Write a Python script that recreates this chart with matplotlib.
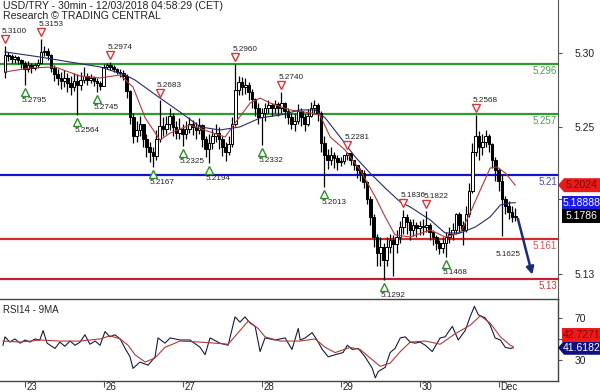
import matplotlib
matplotlib.use('Agg')
import matplotlib.pyplot as plt
import matplotlib.patches as patches
from matplotlib.transforms import IdentityTransform, offset_copy, blended_transform_factory, ScaledTranslation

plt.rcParams['font.family'] = ['Liberation Sans', 'DejaVu Sans']

# ---- data (hourly bars, hour 0 = 22 Nov 18:00) ----
first_open = 5.290
closes = [5.303, 5.302, 5.300, 5.301, 5.299, 5.297,
          5.292, 5.295, 5.293, 5.295, 5.297, 5.305, 5.306, 5.303, 5.293, 5.288, 5.285, 5.283,
          5.285, 5.281, 5.278, 5.283, 5.280, 5.284, 5.287, 5.284, 5.285, 5.283, 5.281, 5.279,
          5.294, 5.295, 5.294, 5.292, 5.290, 5.289, 5.287, 5.275, 5.255, 5.240, 5.245, 5.250,
          5.238, 5.232, 5.228, 5.225, 5.238, 5.248, 5.246, 5.250, 5.256, 5.247, 5.243, 5.246,
          5.242, 5.246, 5.250, 5.247, 5.245, 5.249, 5.238, 5.230, 5.235, 5.240, 5.243, 5.238,
          5.232, 5.228, 5.234, 5.250, 5.276, 5.282, 5.278, 5.280, 5.274, 5.269, 5.262, 5.255,
          5.258, 5.262, 5.264, 5.262, 5.265, 5.262, 5.266, 5.260, 5.255, 5.250, 5.252, 5.260,
          5.255, 5.250, 5.256, 5.262, 5.264, 5.258, 5.235, 5.226, 5.222, 5.226, 5.223, 5.220,
          5.221, 5.226, 5.227, 5.222, 5.218, 5.214, 5.212, 5.205, 5.192, 5.178, 5.162, 5.150,
          5.155, 5.145, 5.155, 5.160, 5.157, 5.162, 5.170, 5.178, 5.174, 5.168, 5.172, 5.169,
          5.171, 5.170, 5.172, 5.166, 5.162, 5.158, 5.154, 5.158, 5.162, 5.165, 5.168, 5.180,
          5.172, 5.168, 5.180, 5.198, 5.228, 5.240, 5.232, 5.236, 5.240, 5.234, 5.222, 5.214,
          5.206, 5.192, 5.186, 5.182, 5.178, 5.1786]
highs = [5.3100, 5.305, 5.304, 5.303, 5.302, 5.300,
         5.298, 5.298, 5.297, 5.297, 5.300, 5.3153, 5.310, 5.308, 5.304, 5.295, 5.292, 5.290,
         5.291, 5.289, 5.287, 5.289, 5.288, 5.290, 5.294, 5.289, 5.288, 5.287, 5.285, 5.283,
         5.296, 5.297, 5.2974, 5.295, 5.293, 5.292, 5.291, 5.288, 5.276, 5.258, 5.252, 5.256,
         5.250, 5.242, 5.236, 5.232, 5.245, 5.2683, 5.255, 5.256, 5.262, 5.258, 5.252, 5.254,
         5.250, 5.252, 5.255, 5.253, 5.251, 5.254, 5.250, 5.240, 5.242, 5.246, 5.250, 5.247,
         5.240, 5.236, 5.240, 5.255, 5.2960, 5.287, 5.286, 5.285, 5.282, 5.277, 5.270, 5.266,
         5.262, 5.266, 5.268, 5.266, 5.268, 5.267, 5.2740, 5.267, 5.262, 5.258, 5.258, 5.265,
         5.262, 5.257, 5.261, 5.267, 5.268, 5.266, 5.260, 5.240, 5.230, 5.232, 5.228, 5.226,
         5.224, 5.226, 5.2281, 5.227, 5.222, 5.218, 5.216, 5.214, 5.206, 5.194, 5.180, 5.165,
         5.162, 5.158, 5.162, 5.165, 5.164, 5.168, 5.175, 5.1836, 5.180, 5.176, 5.176, 5.174,
         5.175, 5.176, 5.1822, 5.173, 5.168, 5.164, 5.160, 5.162, 5.166, 5.170, 5.173, 5.181,
         5.182, 5.175, 5.186, 5.204, 5.235, 5.2568, 5.244, 5.242, 5.245, 5.242, 5.235, 5.224,
         5.216, 5.210, 5.194, 5.190, 5.186, 5.185]
lows = [5.2850, 5.298, 5.297, 5.297, 5.296, 5.293,
        5.2795, 5.290, 5.289, 5.291, 5.293, 5.296, 5.302, 5.299, 5.290, 5.283, 5.280, 5.277,
        5.278, 5.274, 5.272, 5.275, 5.2564, 5.276, 5.281, 5.280, 5.281, 5.279, 5.2745, 5.276,
        5.288, 5.292, 5.291, 5.290, 5.288, 5.286, 5.284, 5.270, 5.250, 5.235, 5.236, 5.240,
        5.232, 5.224, 5.220, 5.2167, 5.222, 5.236, 5.240, 5.242, 5.245, 5.240, 5.238, 5.238,
        5.2325, 5.238, 5.243, 5.241, 5.238, 5.242, 5.232, 5.224, 5.2194, 5.230, 5.236, 5.230,
        5.225, 5.221, 5.226, 5.232, 5.248, 5.272, 5.272, 5.273, 5.268, 5.262, 5.256, 5.250,
        5.2332, 5.252, 5.258, 5.256, 5.258, 5.256, 5.258, 5.254, 5.250, 5.246, 5.244, 5.250,
        5.248, 5.244, 5.248, 5.255, 5.258, 5.252, 5.228, 5.2013, 5.215, 5.218, 5.216, 5.214,
        5.217, 5.219, 5.222, 5.218, 5.214, 5.208, 5.206, 5.200, 5.188, 5.172, 5.155, 5.140,
        5.140, 5.1292, 5.140, 5.150, 5.132, 5.150, 5.158, 5.165, 5.165, 5.160, 5.163, 5.162,
        5.164, 5.164, 5.166, 5.160, 5.156, 5.152, 5.149, 5.150, 5.1468, 5.158, 5.160, 5.165,
        5.166, 5.156, 5.166, 5.178, 5.196, 5.225, 5.222, 5.226, 5.232, 5.228, 5.216, 5.206,
        5.198, 5.163, 5.180, 5.176, 5.174, 5.175]

# moving averages drawn on the chart (hour, price)
ma_red_h = [0, 7.6, 15.2, 22.8, 28.9, 35.0, 38.9, 42.6, 47.1, 50.2, 56.2, 62.3, 66.9, 69.9,
            74.5, 77.5, 80.5, 86.6, 92.7, 95.7, 98.8, 103.3, 107.9, 112.5, 115.5, 118.5,
            123.1, 129.2, 133.7, 138.3, 141.3, 144.4, 147.4, 149.5, 152.0, 155.0]
ma_red_v = [5.2898, 5.2929, 5.2937, 5.2867, 5.2852, 5.2875, 5.2782, 5.2543, 5.2373, 5.2427,
            5.2489, 5.2435, 5.2396, 5.2504, 5.2659, 5.2697, 5.2659, 5.2605, 5.2582, 5.2566,
            5.2396, 5.2296, 5.2141, 5.1933, 5.1779, 5.1640, 5.1624, 5.1678, 5.1624, 5.1655,
            5.1809, 5.1987, 5.2157, 5.2165, 5.2118, 5.2024]
ma_blue_h = [0, 10.6, 19.8, 28.9, 36.5, 39.5, 47.1, 53.2, 59.3, 65.3, 71.4, 77.5, 83.6, 89.7,
             94.2, 97.3, 101.8, 106.4, 110.9, 115.5, 120.1, 123.1, 129.2, 133.7, 138.3,
             142.9, 147.4, 150.5, 153.5, 155.0]
ma_blue_v = [5.3053, 5.3014, 5.2975, 5.2937, 5.2875, 5.2836, 5.2697, 5.2589, 5.2474, 5.2450,
             5.2474, 5.2543, 5.2566, 5.2605, 5.2605, 5.2543, 5.2396, 5.2242, 5.2118, 5.2002,
             5.1894, 5.1856, 5.1755, 5.1655, 5.1655, 5.1701, 5.1779, 5.1871, 5.1887, 5.18888]

# pivot points (bar index)
pivot_highs = [0, 11, 32, 47, 70, 84, 104, 121, 128, 143]
pivot_lows = [6, 22, 28, 45, 54, 62, 78, 97, 115, 134]

# support / resistance levels
levels = [5.296, 5.257, 5.21, 5.161, 5.13]
level_labels = ['5.296', '5.257', '5.21', '5.161', '5.13']
level_colors = ['#2f9a2f', '#2f9a2f', '#1414c8', '#d42a2a', '#c02030']
level_text_colors = ['#4f9f4f', '#4f9f4f', '#4b4ba8', '#c85a5a', '#c83a3a']

price_ticks = [5.3045, 5.2474, 5.1918, 5.1338]
price_tick_labels = ['5.30', '5.25', '', '5.13']   # 5.19 sits behind the value tags

# RSI(14) and its 9MA
rsi_h = [-0.6, 0, 1.5, 3.0, 4.6, 6.1, 7.6, 9.1, 10.6, 11.6, 12.8, 15.2, 16.7, 18.2, 19.8, 21.3,
         22.8, 24.3, 25.8, 27.4, 28.9, 30.4, 31.9, 33.4, 35.0, 36.5, 38.0, 38.9, 41.0, 43.5,
         45.6, 46.5, 48.6, 50.2, 53.2, 56.2, 59.3, 60.8, 62.3, 65.3, 67.8, 69.9, 71.4, 72.9,
         74.5, 76.0, 77.5, 79.0, 82.1, 85.1, 87.2, 89.1, 89.7, 91.2, 93.3, 94.8, 96.4, 98.2,
         100.3, 102.7, 104.0, 105.5, 107.3, 109.4, 111.6, 112.5, 113.4, 115.5, 117.0, 118.5,
         120.1, 121.6, 123.1, 124.6, 126.1, 127.7, 129.8, 132.2, 133.7, 135.9, 137.7, 139.8,
         141.3, 142.6, 143.8, 145.9, 147.4, 148.9, 150.5, 152.0, 153.5, 154.4]
rsi_v = [44, 52, 47, 50, 46, 49, 47, 50, 49, 58, 46, 41, 47, 43, 48, 44,
         47, 54, 45, 48, 44, 57, 52, 54, 50, 41, 33, 22, 28, 25,
         33, 51, 46, 51, 49, 49, 42, 35, 51, 46, 44, 71, 66, 71,
         65, 62, 38, 51, 49, 51, 40, 60, 49, 51, 56, 49, 40, 33,
         35, 37, 44, 40, 41, 33, 22, 13, 19, 23, 37, 41,
         51, 52, 47, 46, 47, 44, 38, 51, 52, 62, 49, 58,
         71, 81, 73, 70, 63, 51, 49, 42, 41, 41.6182]
rsi_ma_h = [-0.6, 4.6, 10.6, 16.7, 22.8, 28.9, 31.9, 35.0, 37.4, 39.5, 42.6, 45.6, 48.6, 53.2,
            59.3, 63.8, 67.8, 71.4, 73.9, 76.9, 79.0, 83.6, 89.7, 94.2, 97.3, 100.3, 104.9,
            107.9, 110.9, 114.0, 117.0, 120.1, 123.1, 127.7, 132.2, 136.8, 141.3, 144.4,
            147.4, 150.5, 153.5, 154.4]
rsi_ma_v = [48, 47, 49, 48, 48, 50, 53, 50, 44, 35, 28, 32, 42, 48,
            47, 46, 45, 58, 67, 60, 52, 48, 48, 50, 42, 37, 42,
            40, 32, 24, 27, 38, 47, 48, 45, 55, 63, 72,
            65, 52, 44, 42.7271]
rsi_ticks = [70, 50, 30]
rsi_tick_labels = ['70', '', '30']   # 50 sits behind the value tag

day_pos = [6, 30, 54, 78, 102, 126, 150]
day_labels = ['23', '26', '27', '28', '29', '30', 'Dec']

# ---- figure ----
fig = plt.figure(figsize=(6, 3.92), dpi=100)
ax = fig.add_axes([0, 93 / 392, 558 / 600, 299 / 392])
ax2 = fig.add_axes([0, 11 / 392, 558 / 600, 82 / 392])

xlim = (-1.5, 168)
ax.set_xlim(*xlim)
ax.set_ylim(5.1145, 5.3454)

# levels
for lv, lab, c, tc in zip(levels, level_labels, level_colors, level_text_colors):
    ax.axhline(lv, color=c, lw=1.6, zorder=1)
    tr = offset_copy(blended_transform_factory(ax.transAxes, ax.transData), fig=fig, x=-1, y=-2, units='dots')
    ax.text(1.0, lv, lab, transform=tr, ha='right', va='top', fontsize=7, color=tc)

# candles
opens = [first_open] + closes[:-1]
for i, (o, h, l, c) in enumerate(zip(opens, highs, lows, closes)):
    ax.vlines(i, l, h, color='black', lw=0.9, zorder=3)
    lo, hi = min(o, c), max(o, c)
    face = 'white' if c > o else 'black'
    ax.add_patch(patches.Rectangle((i - 0.4, lo), 0.8, max(hi - lo, 0.0005),
                                   facecolor=face, edgecolor='black', lw=0.7, zorder=4))

# moving averages
ax.plot(ma_red_h, ma_red_v, color='#b23a3a', lw=0.8, zorder=5)
ax.plot(ma_blue_h, ma_blue_v, color='#2a2a6e', lw=0.8, zorder=5)

# pivots: marker just beyond the extreme, label left-aligned near the marker
for i in pivot_highs:
    mk = offset_copy(ax.transData, fig=fig, y=7, units='dots')
    tx = offset_copy(ax.transData, fig=fig, x=-3, y=11, units='dots')
    ax.plot(i, highs[i], marker='v', ms=6, mfc='white', mec='#d03a3a', mew=1.0, transform=mk, zorder=6)
    ax.text(i, highs[i], '%.4f' % highs[i], transform=tx, ha='left', va='bottom', fontsize=5.9, color='#222222', zorder=6)
for i in pivot_lows:
    mk = offset_copy(ax.transData, fig=fig, y=-7, units='dots')
    tx = offset_copy(ax.transData, fig=fig, x=-3, y=-12, units='dots')
    ax.plot(i, lows[i], marker='^', ms=6, mfc='white', mec='#2f8f2f', mew=1.0, transform=mk, zorder=6)
    ax.text(i, lows[i], '%.4f' % lows[i], transform=tx, ha='left', va='top', fontsize=5.9, color='#222222', zorder=6)

# projection arrow
ax.annotate('', xy=(160.4, 5.1312), xytext=(155.6, 5.1786),
            arrowprops=dict(arrowstyle='-|>', color='#1c2a7a', lw=1.8, mutation_scale=11), zorder=7)
ax.text(152.9, 5.1485, '5.1625', ha='center', va='center', fontsize=5.9, color='#222222')

# main axis styling
for s in ['left', 'top', 'bottom']:
    ax.spines[s].set_visible(False)
ax.spines['right'].set_color('#555555')
ax.set_xticks([])
ax.yaxis.tick_right()
ax.set_yticks(price_ticks)
ax.set_yticklabels(price_tick_labels)
ax.tick_params(axis='y', length=3, width=0.8, color='#555555', pad=9, labelsize=7.5, labelcolor='#222222')

# RSI panel
ax2.set_xlim(*xlim)
ax2.set_ylim(10, 88)
ax2.plot(rsi_h, rsi_v, color='#1a1a3a', lw=0.8)
ax2.plot(rsi_ma_h, rsi_ma_v, color='#b23a3a', lw=0.8)
ax2.spines['left'].set_visible(False)
for s in ['top', 'bottom', 'right']:
    ax2.spines[s].set_color('#444444')
    ax2.spines[s].set_linewidth(1.0)
ax2.yaxis.tick_right()
ax2.set_yticks(rsi_ticks)
ax2.set_yticklabels(rsi_tick_labels)
ax2.tick_params(axis='y', length=3, width=0.8, color='#555555', pad=9, labelsize=7.5, labelcolor='#222222')
ax2.set_xticks(day_pos)
ax2.set_xticklabels(day_labels)
ax2.tick_params(axis='x', length=4, width=0.8, color='#555555', pad=-3, labelsize=7, labelcolor='#222222')
shift = ScaledTranslation(2 / 100, 0, fig.dpi_scale_trans)
for lbl in ax2.get_xticklabels():
    lbl.set_horizontalalignment('left')
    lbl.set_transform(lbl.get_transform() + shift)
ax2.text(0.006, 0.93, 'RSI14 - 9MA', transform=ax2.transAxes, ha='left', va='top', fontsize=7, color='#222222')

# header
fig.text(0.005, 1 - 6 / 392, 'USD/TRY - 30min - 12/03/2018 04:58:29 (CET)', ha='left', va='center', fontsize=7.6, color='#222222')
fig.text(0.005, 1 - 16 / 392, 'Research \u00a9 TRADING CENTRAL', ha='left', va='center', fontsize=7.6, color='#222222')

# value tags on the right
ident = IdentityTransform()


def tag(axis, val, text, face, tcolor, pointer=False, dy=0):
    xr = axis.transAxes.transform((1, 0))[0]
    yc = axis.transData.transform((0, val))[1] + dy
    hh = 7
    if pointer:
        pts = [(xr, yc), (xr + 6, yc + hh), (600, yc + hh), (600, yc - hh), (xr + 6, yc - hh)]
    else:
        pts = [(xr + 4, yc + hh), (600, yc + hh), (600, yc - hh), (xr + 4, yc - hh)]
    fig.add_artist(patches.Polygon(pts, closed=True, facecolor=face, edgecolor='none', transform=ident, zorder=5))
    fig.text((xr + 6 + 600) / 2, yc, text, ha='center', va='center', fontsize=7.5, color=tcolor, transform=ident, zorder=6)


tag(ax, ma_red_v[-1], '%.4f' % ma_red_v[-1], '#e81a1a', '#7a0a0a', pointer=True)
tag(ax, ma_blue_v[-1], '%.5f' % ma_blue_v[-1], '#1a1ae0', 'white')
tag(ax, closes[-1], '%.4f' % closes[-1], 'black', 'white')
tag(ax2, rsi_v[-1], '%.4f' % rsi_v[-1], '#101080', 'white', pointer=True)
tag(ax2, rsi_v[-1], '%.4f' % rsi_ma_v[-1], '#ee1a1a', '#7a0a0a', dy=13)

fig.savefig('out.png', dpi=100)
